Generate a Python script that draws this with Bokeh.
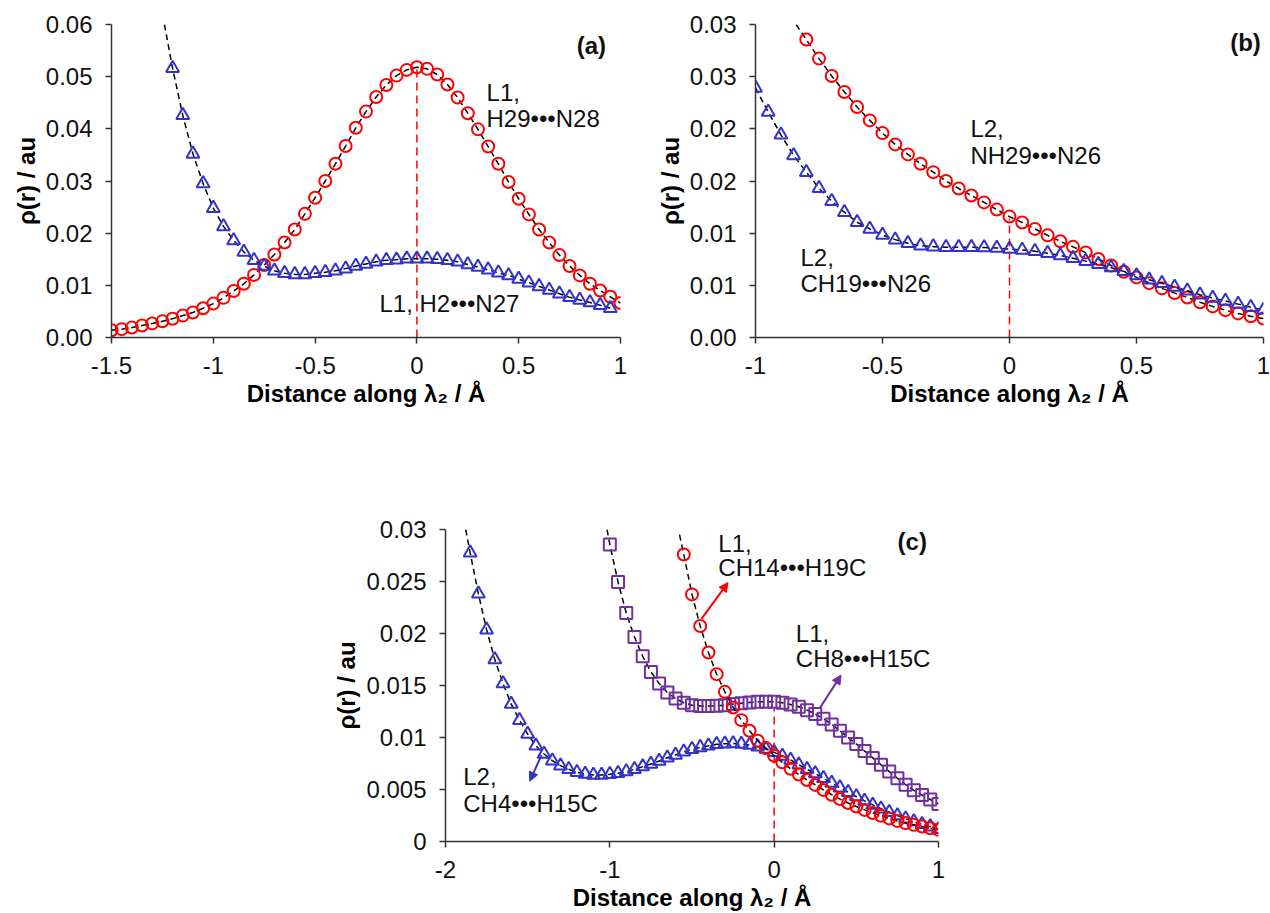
from bokeh.plotting import figure
from bokeh.models import Range1d, FixedTicker, Label, Arrow, NormalHead, Spacer
from bokeh.layouts import column, row
from bokeh.embed import file_html
from bokeh.resources import INLINE

FONT = "Liberation Sans"
RED = "#FF0000"
BLUE = "#3333CC"
PURPLE = "#7030A0"

# ---------------- Panel (a) ----------------
a_x_ticks = [-1.5, -1.0, -0.5, 0.0, 0.5, 1.0]
a_x_labels = ["-1.5", "-1", "-0.5", "0", "0.5", "1"]
a_y_ticks = [0.0, 0.01, 0.02, 0.03, 0.04, 0.05, 0.06]
a_y_labels = ["0.00", "0.01", "0.02", "0.03", "0.04", "0.05", "0.06"]

a_circ_x = [-1.5, -1.45, -1.4, -1.35, -1.3, -1.25, -1.2, -1.15, -1.1, -1.05, -1.0, -0.95, -0.9, -0.85,
            -0.8, -0.75, -0.7, -0.65, -0.6, -0.55, -0.5, -0.45, -0.4, -0.35, -0.3, -0.25, -0.2, -0.15,
            -0.1, -0.05, 0.0, 0.05, 0.1, 0.15, 0.2, 0.25, 0.3, 0.35, 0.4, 0.45, 0.5, 0.55, 0.6, 0.65,
            0.7, 0.75, 0.8, 0.85, 0.9, 0.95, 1.0]
a_circ_y = [0.0014, 0.0016, 0.0019, 0.0023, 0.0027, 0.0031, 0.0036, 0.0042, 0.0048, 0.0056, 0.0065,
            0.0076, 0.0089, 0.0103, 0.0120, 0.0139, 0.0159, 0.0182, 0.0207, 0.0237, 0.0268, 0.0300,
            0.0333, 0.0367, 0.0402, 0.0433, 0.0461, 0.0484, 0.0502, 0.0513, 0.0518, 0.0515, 0.0504,
            0.0485, 0.0460, 0.0430, 0.0399, 0.0366, 0.0333, 0.0298, 0.0266, 0.0236, 0.0207, 0.0182,
            0.0158, 0.0137, 0.0119, 0.0103, 0.0090, 0.0078, 0.0066]
a_circ_line_x = a_circ_x
a_circ_line_y = a_circ_y

a_tri_x = [-1.2, -1.15, -1.1, -1.05, -1.0, -0.95, -0.9, -0.85, -0.8, -0.75, -0.7, -0.65, -0.6, -0.55,
           -0.5, -0.45, -0.4, -0.35, -0.3, -0.25, -0.2, -0.15, -0.1, -0.05, 0.0, 0.05, 0.1, 0.15, 0.2,
           0.25, 0.3, 0.35, 0.4, 0.45, 0.5, 0.55, 0.6, 0.65, 0.7, 0.75, 0.8, 0.85, 0.9, 0.95]
a_tri_y = [0.0516, 0.0426, 0.0352, 0.0295, 0.0248, 0.0213, 0.0186, 0.0164, 0.0148, 0.0137, 0.0128,
           0.0123, 0.0121, 0.0121, 0.0123, 0.0125, 0.0128, 0.0132, 0.0137, 0.0141, 0.0145, 0.0148,
           0.0149, 0.0151, 0.0151, 0.0151, 0.0150, 0.0148, 0.0145, 0.0140, 0.0135, 0.0130, 0.0124,
           0.0119, 0.0112, 0.0105, 0.0098, 0.0091, 0.0084, 0.0077, 0.0072, 0.0067, 0.0062, 0.0056]
a_tri_line_x = [-1.24] + a_tri_x
a_tri_line_y = [0.06] + a_tri_y

a_vline_x = [0.0, 0.0]
a_vline_y = [0.0, 0.0518]

# ---------------- Panel (b) ----------------
b_x_ticks = [-1.0, -0.5, 0.0, 0.5, 1.0]
b_x_labels = ["-1", "-0.5", "0", "0.5", "1"]
b_y_ticks = [0.0, 0.005, 0.01, 0.015, 0.02, 0.025, 0.03]
b_y_labels = ["0.00", "0.01", "0.01", "0.02", "0.02", "0.03", "0.03"]

b_circ_x = [-0.8, -0.75, -0.7, -0.65, -0.6, -0.55, -0.5, -0.45, -0.4, -0.35, -0.3, -0.25, -0.2, -0.15,
            -0.1, -0.05, 0.0, 0.05, 0.1, 0.15, 0.2, 0.25, 0.3, 0.35, 0.4, 0.45, 0.5, 0.55, 0.6, 0.65,
            0.7, 0.75, 0.8, 0.85, 0.9, 0.95, 1.0]
b_circ_y = [0.02856, 0.02673, 0.02507, 0.02353, 0.02209, 0.02081, 0.01959, 0.01851, 0.01755, 0.01665,
            0.01585, 0.01500, 0.01428, 0.01361, 0.01295, 0.01226, 0.01159, 0.01102, 0.01041, 0.00979,
            0.00922, 0.00869, 0.00814, 0.00752, 0.00690, 0.00630, 0.00576, 0.00521, 0.00471, 0.00426,
            0.00384, 0.00338, 0.00298, 0.00262, 0.00231, 0.00204, 0.00182]
b_circ_line_x = [-0.84] + b_circ_x
b_circ_line_y = [0.03] + b_circ_y

b_tri_x = [-1.0, -0.95, -0.9, -0.85, -0.8, -0.75, -0.7, -0.65, -0.6, -0.55, -0.5, -0.45, -0.4, -0.35,
           -0.3, -0.25, -0.2, -0.15, -0.1, -0.05, 0.0, 0.05, 0.1, 0.15, 0.2, 0.25, 0.3, 0.35, 0.4, 0.45,
           0.5, 0.55, 0.6, 0.65, 0.7, 0.75, 0.8, 0.85, 0.9, 0.95, 1.0]
b_tri_y = [0.02392, 0.02161, 0.01943, 0.01745, 0.01585, 0.01431, 0.01306, 0.01201, 0.01105, 0.01041,
           0.00983, 0.00938, 0.00903, 0.00880, 0.00871, 0.00866, 0.00864, 0.00864, 0.00863, 0.00858,
           0.00848, 0.00839, 0.00826, 0.00808, 0.00786, 0.00760, 0.00732, 0.00702, 0.00670, 0.00634,
           0.00594, 0.00554, 0.00519, 0.00485, 0.00448, 0.00410, 0.00378, 0.00350, 0.00320, 0.00290,
           0.00263]
b_tri_line_x = b_tri_x
b_tri_line_y = b_tri_y

b_vline_x = [0.0, 0.0]
b_vline_y = [0.0, 0.0114]

# ---------------- Panel (c) ----------------
c_x_ticks = [-2.0, -1.0, 0.0, 1.0]
c_x_labels = ["-2", "-1", "0", "1"]
c_y_ticks = [0.0, 0.005, 0.01, 0.015, 0.02, 0.025, 0.03]
c_y_labels = ["0", "0.005", "0.01", "0.015", "0.02", "0.025", "0.03"]

c_tri_x = [-1.85, -1.8, -1.75, -1.7, -1.65, -1.6, -1.55, -1.5, -1.45, -1.4, -1.35, -1.3, -1.25, -1.2,
           -1.15, -1.1, -1.05, -1.0, -0.95, -0.9, -0.85, -0.8, -0.75, -0.7, -0.65, -0.6, -0.55, -0.5,
           -0.45, -0.4, -0.35, -0.3, -0.25, -0.2, -0.15, -0.1, -0.05, 0.0, 0.05, 0.1, 0.15, 0.2, 0.25,
           0.3, 0.35, 0.4, 0.45, 0.5, 0.55, 0.6, 0.65, 0.7, 0.75, 0.8, 0.85, 0.9, 0.95, 1.0]
c_tri_y = [0.02776, 0.02383, 0.02037, 0.01749, 0.01519, 0.01321, 0.01167, 0.01033, 0.00921, 0.00841,
           0.00777, 0.00729, 0.00694, 0.00665, 0.00649, 0.00640, 0.00640, 0.00646, 0.00656, 0.00672,
           0.00694, 0.00720, 0.00745, 0.00774, 0.00806, 0.00832, 0.00862, 0.00887, 0.00905, 0.00921,
           0.00934, 0.00940, 0.00943, 0.00937, 0.00927, 0.00912, 0.00889, 0.00857, 0.00823, 0.00784,
           0.00738, 0.00694, 0.00653, 0.00608, 0.00562, 0.00518, 0.00474, 0.00432, 0.00390, 0.00352,
           0.00315, 0.00281, 0.00249, 0.00219, 0.00192, 0.00166, 0.00143, 0.00118]
c_tri_line_x = [-1.877] + c_tri_x
c_tri_line_y = [0.03] + c_tri_y

c_sq_x = [-1.0, -0.95, -0.9, -0.85, -0.8, -0.75, -0.7, -0.65, -0.6, -0.55, -0.5, -0.45, -0.4, -0.35,
          -0.3, -0.25, -0.2, -0.15, -0.1, -0.05, 0.0, 0.05, 0.1, 0.15, 0.2, 0.25, 0.3, 0.35, 0.4, 0.45,
          0.5, 0.55, 0.6, 0.65, 0.7, 0.75, 0.8, 0.85, 0.9, 0.95, 1.0]
c_sq_y = [0.02856, 0.02495, 0.02197, 0.01967, 0.01781, 0.01631, 0.01519, 0.01433, 0.01375, 0.01334,
          0.01311, 0.01302, 0.01302, 0.01305, 0.01311, 0.01321, 0.01330, 0.01337, 0.01343, 0.01344,
          0.01343, 0.01334, 0.01318, 0.01295, 0.01263, 0.01225, 0.01181, 0.01126, 0.01065, 0.01001,
          0.00937, 0.00870, 0.00804, 0.00738, 0.00672, 0.00608, 0.00546, 0.00492, 0.00446, 0.00404,
          0.00361]
c_sq_line_x = [-1.017] + c_sq_x
c_sq_line_y = [0.03] + c_sq_y

c_circ_x = [-0.55, -0.5, -0.45, -0.4, -0.35, -0.3, -0.25, -0.2, -0.15, -0.1, -0.05, 0.0, 0.05, 0.1,
            0.15, 0.2, 0.25, 0.3, 0.35, 0.4, 0.45, 0.5, 0.55, 0.6, 0.65, 0.7, 0.75, 0.8, 0.85, 0.9,
            0.95, 1.0]
c_circ_y = [0.02760, 0.02376, 0.02072, 0.01817, 0.01609, 0.01439, 0.01289, 0.01167, 0.01065, 0.00969,
            0.00898, 0.00825, 0.00761, 0.00699, 0.00644, 0.00592, 0.00544, 0.00496, 0.00450, 0.00408,
            0.00370, 0.00336, 0.00304, 0.00274, 0.00247, 0.00222, 0.00198, 0.00177, 0.00160, 0.00144,
            0.00128, 0.00112]
c_circ_line_x = [-0.576] + c_circ_x
c_circ_line_y = [0.0295] + c_circ_y

c_vline_x = [0.0, 0.0]
c_vline_y = [0.0, 0.0128]


def make_fig(width, height, left, right, top, bottom, xr, yr, xt, xl, yt, yl):
    p = figure(width=width, height=height, x_range=Range1d(*xr), y_range=Range1d(*yr),
               output_backend="svg", toolbar_location=None,
               min_border_left=left, min_border_right=right,
               min_border_top=top, min_border_bottom=bottom)
    p.outline_line_color = None
    p.grid.visible = False
    p.background_fill_color = "white"
    p.border_fill_color = "white"
    p.xaxis.ticker = FixedTicker(ticks=xt)
    p.xaxis.major_label_overrides = dict(zip(xt, xl))
    p.yaxis.ticker = FixedTicker(ticks=yt)
    p.yaxis.major_label_overrides = dict(zip(yt, yl))
    for ax in (p.xaxis[0], p.yaxis[0]):
        ax.axis_line_color = "#333333"
        ax.axis_line_width = 1.5
        ax.major_tick_line_color = "#333333"
        ax.major_tick_line_width = 1.5
        ax.major_tick_out = 6
        ax.major_tick_in = 0
        ax.minor_tick_out = 0
        ax.minor_tick_in = 0
        ax.major_label_text_font = FONT
        ax.major_label_text_font_size = "24px"
        ax.major_label_text_color = "#111111"
        ax.major_label_standoff = 13
        ax.axis_label_text_font = FONT
        ax.axis_label_text_font_size = "24px"
        ax.axis_label_text_font_style = "bold"
        ax.axis_label_text_color = "#000000"
        ax.axis_label_standoff = 3
    p.xaxis.axis_label = "Distance along λ₂ / Å"
    p.yaxis.axis_label = "ρ(r) / au"
    return p


def series(p, x, y, lx, ly, marker, color, size):
    p.line(lx, ly, line_color="black", line_width=1.5, line_dash="6 4")
    p.scatter(x, y, marker=marker, size=size, line_color=color, line_width=2,
              fill_alpha=0)


def vline(p, x, y):
    p.line(x, y, line_color=RED, line_width=1.5, line_dash="8 5")


def text(p, x, y, s, bold=False, align="left", size="24px"):
    p.add_layout(Label(x=x, y=y, text=s, text_font=FONT, text_font_size=size,
                       text_font_style="bold" if bold else "normal",
                       text_align=align, text_baseline="middle", text_color="#111111"))


def arrow(p, x0, y0, x1, y1, color):
    p.add_layout(Arrow(end=NormalHead(size=9, fill_color=color, line_color=color),
                       x_start=x0, y_start=y0, x_end=x1, y_end=y1,
                       line_color=color, line_width=2))


# (a)
pa = make_fig(640, 420, 111, 20, 24, 83, (-1.5, 1.0), (0.0, 0.06),
              a_x_ticks, a_x_labels, a_y_ticks, a_y_labels)
vline(pa, a_vline_x, a_vline_y)
series(pa, a_circ_x, a_circ_y, a_circ_line_x, a_circ_line_y, "circle", RED, 12)
series(pa, a_tri_x, a_tri_y, a_tri_line_x, a_tri_line_y, "triangle", BLUE, 13)
text(pa, 0.857, 0.056, "(a)", bold=True, align="center")
text(pa, 0.342, 0.0469, "L1,")
text(pa, 0.342, 0.0419, "H29•••N28")
text(pa, -0.184, 0.0065, "L1, H2•••N27")

# (b)
pb = make_fig(630, 420, 115, 7, 24, 83, (-1.0, 1.0), (0.0, 0.03),
              b_x_ticks, b_x_labels, b_y_ticks, b_y_labels)
vline(pb, b_vline_x, b_vline_y)
series(pb, b_circ_x, b_circ_y, b_circ_line_x, b_circ_line_y, "circle", RED, 12)
series(pb, b_tri_x, b_tri_y, b_tri_line_x, b_tri_line_y, "triangle", BLUE, 13)
text(pb, 0.929, 0.0283, "(b)", bold=True, align="center")
text(pb, -0.154, 0.0200, "L2,")
text(pb, -0.154, 0.01744, "NH29•••N26")
text(pb, -0.823, 0.00767, "L2,")
text(pb, -0.823, 0.00518, "CH19•••N26")

# (c)
pc = make_fig(628, 493, 114, 20, 109, 72, (-2.0, 1.0), (0.0, 0.03),
              c_x_ticks, c_x_labels, c_y_ticks, c_y_labels)
vline(pc, c_vline_x, c_vline_y)
series(pc, c_tri_x, c_tri_y, c_tri_line_x, c_tri_line_y, "triangle", BLUE, 13)
series(pc, c_sq_x, c_sq_y, c_sq_line_x, c_sq_line_y, "square", PURPLE, 12)
series(pc, c_circ_x, c_circ_y, c_circ_line_x, c_circ_line_y, "circle", RED, 12)
text(pc, 0.84, 0.0288, "(c)", bold=True, align="center")
text(pc, -0.34, 0.02865, "L1,")
text(pc, -0.34, 0.02635, "CH14•••H19C")
text(pc, 0.132, 0.0200, "L1,")
text(pc, 0.132, 0.0176, "CH8•••H15C")
text(pc, -1.892, 0.00624, "L2,")
text(pc, -1.892, 0.00368, "CH4•••H15C")
arrow(pc, -0.442, 0.0214, -0.281, 0.0249, RED)
arrow(pc, 0.277, 0.0128, 0.407, 0.0160, PURPLE)
arrow(pc, -1.416, 0.0083, -1.487, 0.0058, BLUE)

layout = column(row(pa, pb), row(Spacer(width=330, height=493), pc))

with open("out.html", "w") as f:
    f.write(file_html(layout, INLINE, title="rho(r) profiles"))
